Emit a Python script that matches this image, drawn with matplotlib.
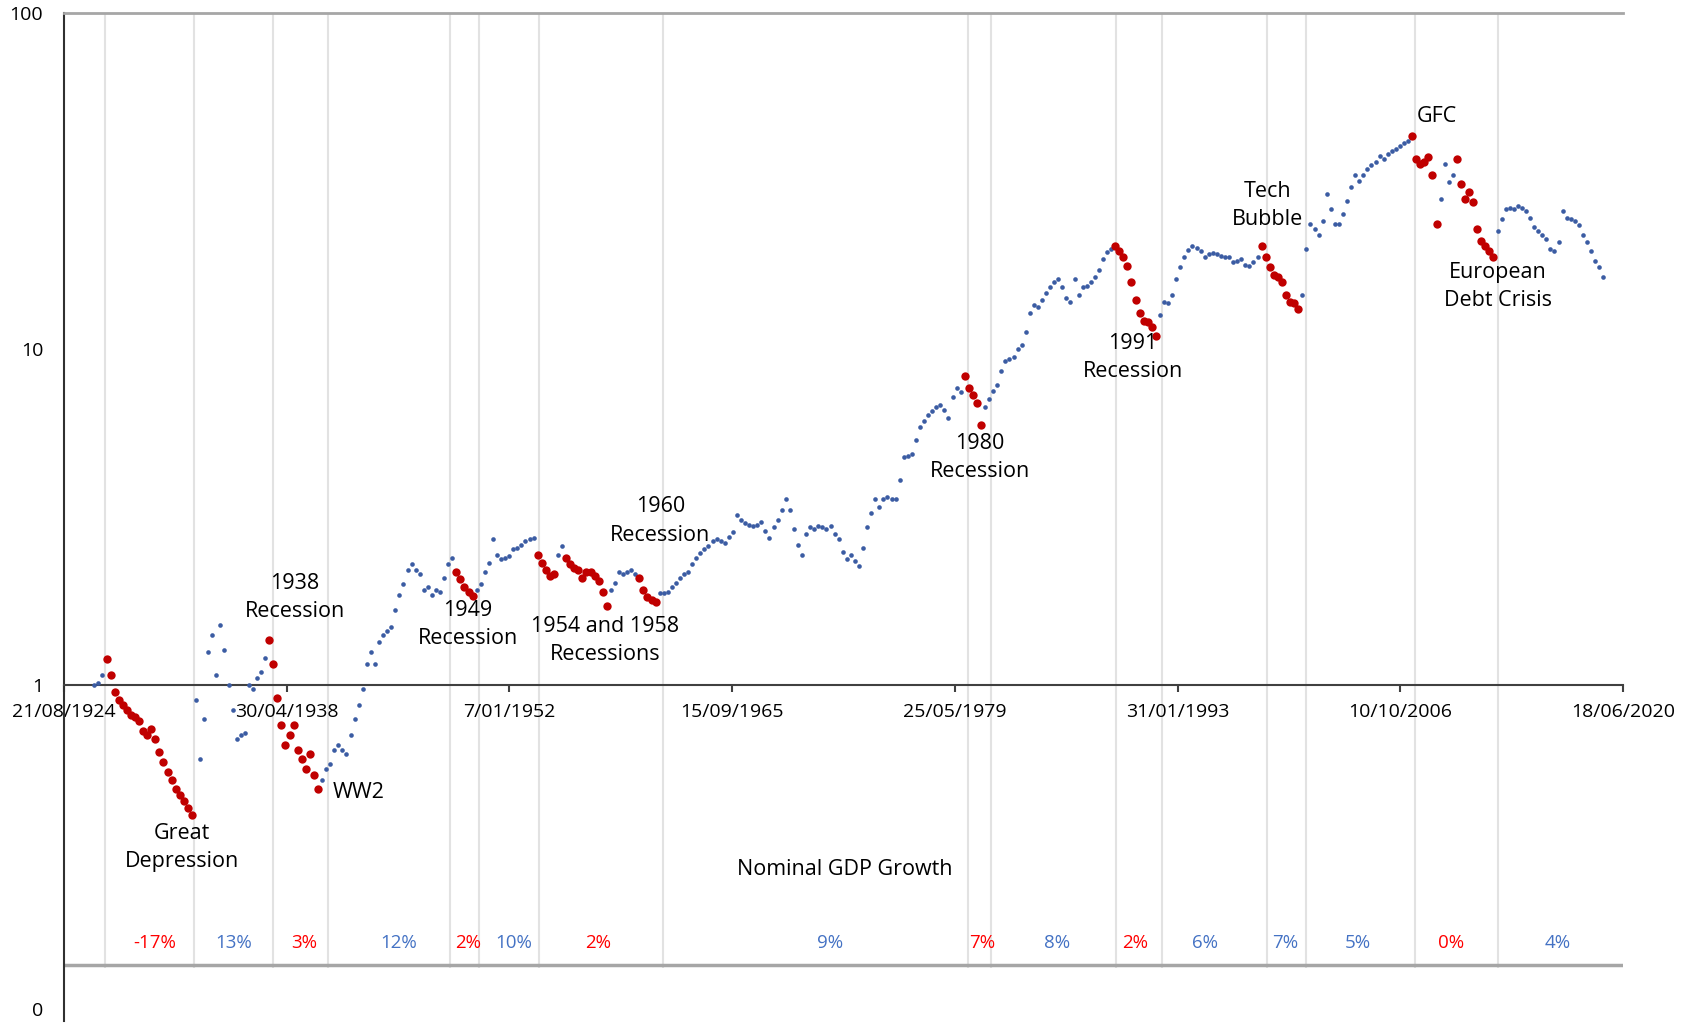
import numpy as np
import matplotlib.pyplot as plt
import matplotlib.dates as mdates
from datetime import datetime

plt.rcParams['font.family'] = ['Open Sans', 'DejaVu Sans']

# quarterly index level, first point is mid 1926
start_year = 1926.5
index_q = [
    1.00, 1.01, 1.07, 1.19, 1.07, 0.95, 0.90, 0.87, 0.84, 0.81,
    0.80, 0.78, 0.73, 0.71, 0.74, 0.69, 0.63, 0.59, 0.55, 0.52,
    0.49, 0.47, 0.45, 0.43, 0.41, 0.90, 0.60, 0.79, 1.25, 1.41,
    1.07, 1.51, 1.27, 1.00, 0.84, 0.69, 0.71, 0.72, 1.00, 0.97,
    1.05, 1.09, 1.20, 1.36, 1.15, 0.91, 0.76, 0.66, 0.71, 0.76,
    0.64, 0.60, 0.56, 0.62, 0.54, 0.49, 0.52, 0.56, 0.58, 0.64,
    0.66, 0.64, 0.62, 0.71, 0.79, 0.87, 0.97, 1.15, 1.25, 1.15,
    1.34, 1.41, 1.44, 1.48, 1.67, 1.85, 1.99, 2.20, 2.28, 2.20,
    2.13, 1.92, 1.95, 1.85, 1.92, 1.89, 2.08, 2.28, 2.39, 2.17,
    2.06, 1.95, 1.89, 1.84, 1.92, 1.99, 2.17, 2.31, 2.71, 2.44,
    2.36, 2.39, 2.42, 2.53, 2.56, 2.61, 2.67, 2.71, 2.74, 2.44,
    2.31, 2.20, 2.11, 2.13, 2.44, 2.58, 2.39, 2.28, 2.23, 2.20,
    2.08, 2.17, 2.17, 2.10, 2.03, 1.89, 1.72, 1.92, 2.01, 2.17,
    2.14, 2.17, 2.20, 2.13, 2.08, 1.92, 1.83, 1.79, 1.76, 1.87,
    1.88, 1.89, 1.95, 2.01, 2.08, 2.13, 2.17, 2.28, 2.39, 2.47,
    2.53, 2.58, 2.67, 2.71, 2.67, 2.65, 2.76, 2.84, 3.21, 3.10,
    3.04, 2.99, 2.96, 2.99, 3.06, 2.86, 2.74, 2.94, 3.10, 3.32,
    3.56, 3.32, 2.90, 2.61, 2.44, 2.80, 2.94, 2.90, 2.96, 2.94,
    2.90, 2.96, 2.80, 2.71, 2.49, 2.36, 2.44, 2.33, 2.25, 2.56,
    2.94, 3.25, 3.56, 3.37, 3.56, 3.63, 3.56, 3.56, 4.08, 4.75,
    4.78, 4.85, 5.37, 5.84, 6.09, 6.37, 6.53, 6.72, 6.79, 6.59,
    6.24, 7.18, 7.67, 7.44, 8.31, 7.67, 7.28, 6.88, 5.95, 6.72,
    7.07, 7.47, 7.83, 8.57, 9.18, 9.30, 9.43, 9.96, 10.3, 11.2,
    12.8, 13.5, 13.3, 14.0, 14.7, 15.3, 15.8, 16.1, 15.3, 14.2,
    13.8, 16.1, 14.5, 15.3, 15.4, 15.8, 16.4, 17.2, 18.5, 19.4,
    19.8, 20.2, 19.5, 18.8, 17.7, 15.8, 14.0, 12.8, 12.1, 12.0,
    11.6, 10.9, 12.6, 13.8, 13.7, 14.5, 16.1, 17.5, 18.8, 19.7,
    20.3, 20.0, 19.5, 18.8, 19.1, 19.3, 19.1, 18.9, 18.8, 18.8,
    18.1, 18.2, 18.5, 17.8, 17.6, 18.1, 18.8, 20.3, 18.8, 17.5,
    16.6, 16.4, 15.8, 14.5, 13.8, 13.7, 13.1, 14.5, 19.8, 23.5,
    22.7, 21.9, 24.0, 28.9, 26.0, 23.5, 23.5, 25.2, 27.6, 30.3,
    32.9, 31.6, 33.0, 34.3, 35.2, 36.0, 37.6, 36.7, 38.0, 38.8,
    39.4, 40.3, 41.1, 41.6, 42.9, 36.7, 35.5, 36.0, 37.3, 33.0,
    23.5, 27.9, 35.5, 31.4, 33.0, 36.7, 31.0, 27.9, 29.4, 27.3,
    22.7, 20.9, 20.2, 19.5, 18.8, 22.4, 24.3, 26.0, 26.3, 26.0,
    26.6, 26.3, 25.7, 24.6, 23.1, 22.4, 21.8, 21.2, 19.8, 19.5,
    20.8, 25.7, 24.6, 24.3, 24.0, 23.3, 21.9, 20.8, 19.5, 18.2,
    17.5, 16.4,
]

# recession windows (decimal years) -> red dots
recessions = [(1927.2, 1932.6), (1937.2, 1940.3), (1948.7, 1949.8),
              (1953.7, 1954.8), (1955.4, 1958.1), (1959.9, 1961.1),
              (1979.9, 1981.1), (1989.2, 1991.8), (1998.2, 2000.6),
              (2007.4, 2009.1), (2010.2, 2012.6)]

# period boundaries (light vertical lines)
period_lines = [1927.16, 1932.63, 1937.49, 1940.87, 1948.36, 1950.15,
                1953.83, 1961.46, 1980.20, 1981.62, 1989.30, 1992.13,
                1998.58, 2000.98, 2007.68, 2012.78]

growth_pos = [1930.23, 1935.09, 1939.39, 1945.23, 1949.47, 1952.30, 1957.46,
              1971.72, 1981.06, 1985.67, 1990.47, 1994.77, 1999.69, 2004.17,
              2009.89, 2016.47]
growth_txt = ['-17%', '13%', '3%', '12%', '2%', '10%', '2%', '9%', '7%',
              '8%', '2%', '6%', '7%', '5%', '0%', '4%']
growth_neg = [1, 0, 1, 0, 1, 0, 1, 0, 1, 0, 1, 0, 0, 0, 1, 0]

events = [('Great\nDepression', 1931.86, 0.327),
          ('1938\nRecession', 1938.84, 1.82),
          ('1949\nRecession', 1949.47, 1.51),
          ('1954 and 1958\nRecessions', 1957.89, 1.35),
          ('1960\nRecession', 1961.30, 3.07),
          ('1980\nRecession', 1980.91, 4.75),
          ('1991\nRecession', 1990.34, 9.42),
          ('Tech\nBubble', 1998.64, 26.7),
          ('GFC', 2009.03, 49.3),
          ('European\nDebt Crisis', 2012.78, 15.3)]

tick_labels = ['21/08/1924', '30/04/1938', '7/01/1952', '15/09/1965',
               '25/05/1979', '31/01/1993', '10/10/2006', '18/06/2020']


def yr(y):
    return mdates.date2num(datetime(1900, 1, 1)) + (y - 1900) * 365.2425


years = start_year + 0.25 * np.arange(len(index_q))
vals = np.array(index_q)
red = np.zeros(len(vals), dtype=bool)
for a, b in recessions:
    red |= (years >= a) & (years <= b)
xd = yr(years)

fig = plt.figure(figsize=(16.84, 10.23), dpi=100)
ax = fig.add_axes([64 / 1684, 2.5 / 1023, 1559 / 1684, 1007.5 / 1023])
ax.set_yscale('log')
ax.set_ylim(0.1, 100)
tick_dates = [mdates.date2num(datetime.strptime(t, '%d/%m/%Y')) for t in tick_labels]
ax.set_xlim(tick_dates[0], tick_dates[-1])

ax.vlines(yr(np.array(period_lines)), 0.143, 100, color='#e2e2e2', lw=1.5, zorder=0)
ax.axhline(0.146, color='#a6a6a6', lw=2.5, zorder=1)

ax.scatter(xd[~red], vals[~red], s=11, color='#3b5ca3', lw=0, zorder=3)
ax.scatter(xd[red], vals[red], s=36, color='#c00000', lw=0, zorder=4)

for txt, x, y in events:
    ax.text(yr(x), y, txt, ha='center', va='center', fontsize=15.5,
            linespacing=1.45, color='black', zorder=5)
ax.text(yr(1941.17), 0.477, 'WW2', ha='left', va='center', fontsize=15.5, zorder=5)
ax.text(yr(1972.64), 0.281, 'Nominal GDP Growth', ha='center', va='center', fontsize=15.5)

for x, t, neg in zip(growth_pos, growth_txt, growth_neg):
    ax.text(yr(x), 0.170, t, ha='center', va='center', fontsize=13.5,
            color='#ff0000' if neg else '#4472c4')

ax.set_yticks([0.1, 1, 10, 100])
ax.set_yticklabels(['0', '1', '10', '100'])
ax.yaxis.set_minor_locator(plt.NullLocator())
ax.tick_params(axis='y', length=0, pad=15, labelsize=14)
ax.get_yticklabels()[0].set_va('bottom')
ax.set_xticks(tick_dates)
ax.set_xticklabels(tick_labels)
ax.xaxis.set_minor_locator(plt.NullLocator())
ax.tick_params(axis='x', direction='out', length=5, width=1.5, pad=8,
               labelsize=14, color='#404040')

ax.spines['bottom'].set_position(('data', 1))
ax.spines['bottom'].set_color('#404040')
ax.spines['bottom'].set_linewidth(1.5)
ax.spines['left'].set_color('#303030')
ax.spines['left'].set_linewidth(1.5)
ax.spines['top'].set_color('#a6a6a6')
ax.spines['top'].set_linewidth(2)
ax.spines['right'].set_visible(False)
ax.patch.set_alpha(0)

fig.savefig('out.png', dpi=100)
